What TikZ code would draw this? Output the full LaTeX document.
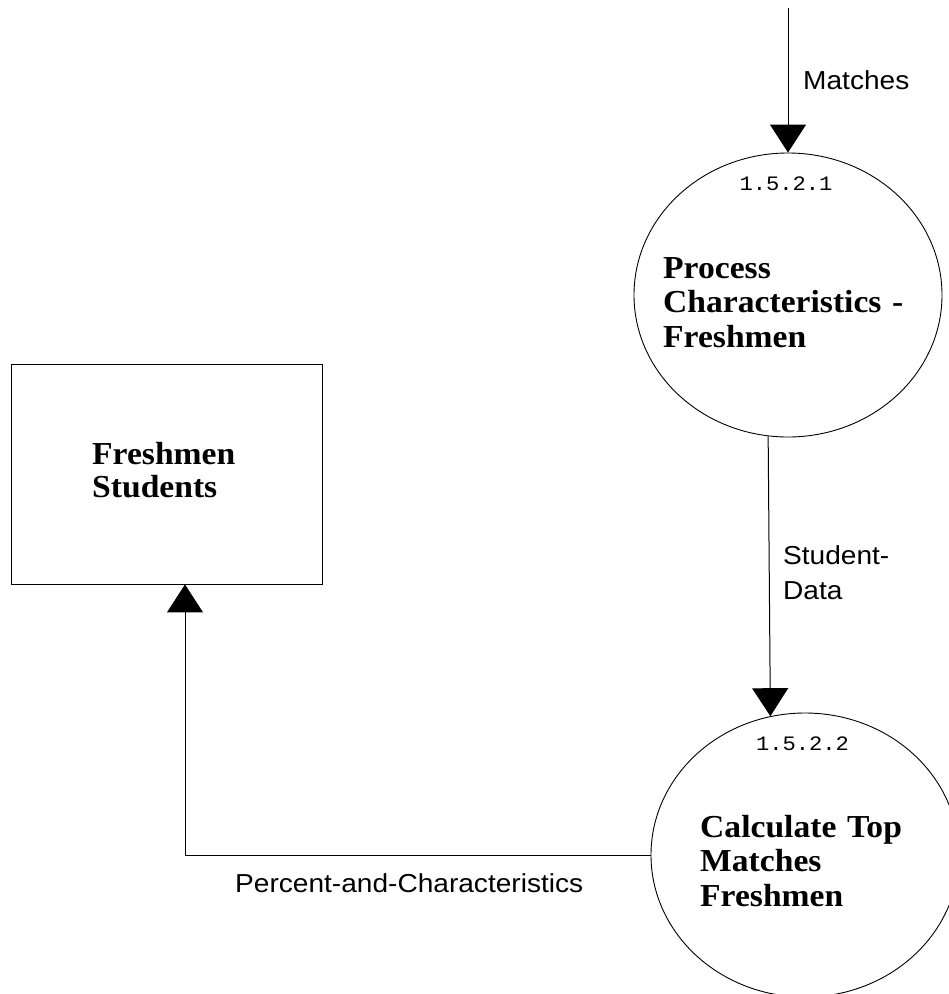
\documentclass[tikz,border=0pt]{standalone}
\usepackage{fontspec}
\setmainfont{Liberation Serif}
\newfontfamily\dfdsans{Liberation Sans}[FakeStretch=1.08]
\newfontfamily\dfdserif{Liberation Serif}[FakeStretch=1.05]
\newfontfamily\dfdmono{Liberation Mono}[FakeStretch=1.08]
\usetikzlibrary{arrows.meta,shapes.geometric}
\begin{document}
\begin{tikzpicture}[x=1pt,y=-1pt,
  proc/.style={draw,ellipse,minimum width=308pt,minimum height=284pt,inner sep=0pt,line width=0.9pt},
  ent/.style={draw,rectangle,minimum width=311pt,minimum height=220pt,inner sep=0pt,line width=0.9pt},
  flow/.style={draw,line width=1pt,-{Triangle[width=36pt,length=28pt]}},
  title/.style={anchor=base west,inner sep=0pt,text width=270pt,align=left,font=\dfdserif\bfseries\fontsize{32}{34.5}\selectfont},
  num/.style={inner sep=0pt,font=\dfdmono\fontsize{20.5}{24}\selectfont},
  flowlbl/.style={anchor=base west,inner sep=0pt,text width=420pt,align=left,font=\dfdsans\fontsize{26}{35}\selectfont}]
\path[use as bounding box] (0,0) rectangle (949,994);
% nodes
\node[ent] (fs) at (166.5,474) {};
\node[proc] (p1) at (788,295) {};
\node[proc] (p2) at (805,855) {};
% texts
\node[title] (t1) at (663,278) {Process\\Characteristics -\\Freshmen};
\node[title] (t2) at (700,837) {Calculate Top\\Matches\\Freshmen};
\node[title,font=\dfdserif\bfseries\fontsize{32}{33}\selectfont] (t3) at (92,464) {Freshmen\\Students};
\node[num] (n1) at (786,183.5) {1.5.2.1};
\node[num] (n2) at (802.5,743.5) {1.5.2.2};
% connectors
\coordinate (src) at (788,8);
\coordinate (bend) at (185,855);
\draw[flow] (src) -- (p1.north);
\draw[flow] (p1.262.3) -- (p2.104.6);
\draw[flow] (p2.west) -- (bend) -- (bend |- fs.south);
% labels
\node[flowlbl] (lm) at (803,89) {Matches};
\node[flowlbl] (lsd) at (783,564) {Student-\\Data};
\node[flowlbl] (lpc) at (235,892) {Percent-and-Characteristics};
\end{tikzpicture}
\end{document}
